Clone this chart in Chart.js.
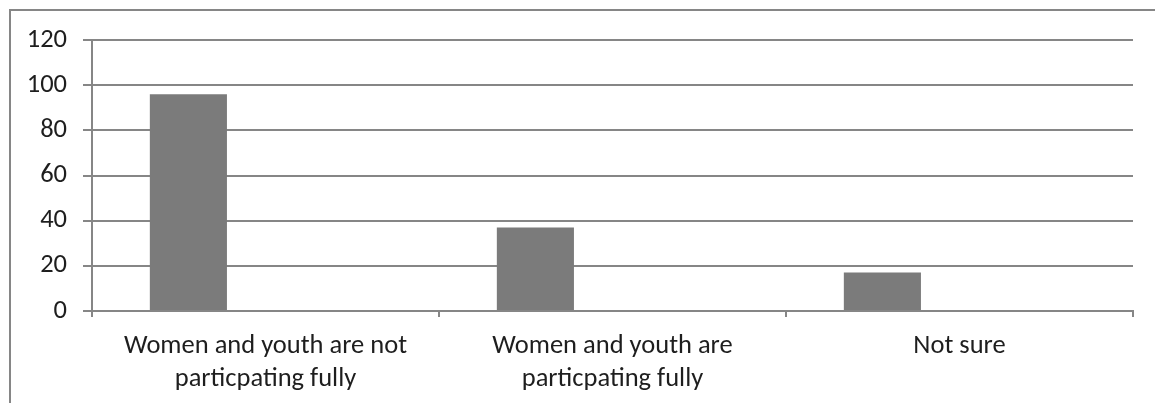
<!DOCTYPE html>
<html>
<head>
<meta charset="utf-8">
<script src="https://cdn.jsdelivr.net/npm/chart.js@4.4.1/dist/chart.umd.min.js"></script>
<style>
  html, body { margin: 0; padding: 0; background: #ffffff; overflow: hidden; }
  canvas { display: block; }
</style>
</head>
<body>
<canvas id="chart" width="1155" height="403"></canvas>
<script>
// Survey responses on participation of women and youth
const categories = [
  ['Women and youth are not', 'particpating fully'],
  ['Women and youth are', 'particpating fully'],
  'Not sure'
];
const responses = [96, 37, 17];
// The workbook carries two further series with no entries
const emptySeriesB = [null, null, null];
const emptySeriesC = [null, null, null];
const yTicks = [0, 20, 40, 60, 80, 100, 120];

const lineGray = '#868686';
const barGray = '#7b7b7b';
const textColor = '#1e1e1e';
const labelFont = { family: 'Carlito, Lato, "Open Sans", sans-serif', size: 26.5 };

const framePlugin = {
  id: 'frame',
  beforeDraw(chart) {
    const ctx = chart.ctx;
    ctx.save();
    ctx.fillStyle = '#ffffff';
    ctx.fillRect(0, 0, chart.width, chart.height);
    ctx.strokeStyle = lineGray;
    ctx.lineWidth = 2;
    ctx.strokeRect(10, 10, chart.width + 20, chart.height + 20);
    ctx.restore();
  }
};

new Chart(document.getElementById('chart'), {
  type: 'bar',
  data: {
    labels: categories,
    datasets: [
      { data: responses, backgroundColor: barGray },
      { data: emptySeriesB, backgroundColor: barGray },
      { data: emptySeriesC, backgroundColor: barGray }
    ]
  },
  options: {
    responsive: false,
    animation: false,
    devicePixelRatio: 1,
    layout: { padding: { top: 40, left: 0, right: 22, bottom: 0 } },
    plugins: { legend: { display: false }, tooltip: { enabled: false } },
    datasets: { bar: { categoryPercentage: 3 / 4.5, barPercentage: 1.0 } },
    scales: {
      x: {
        offset: true,
        grid: {
          offset: true,
          drawOnChartArea: false,
          drawTicks: true,
          tickLength: 6,
          color: lineGray,
          lineWidth: 2
        },
        border: { display: true, color: lineGray, width: 2 },
        ticks: {
          color: textColor,
          font: Object.assign({ lineHeight: 1.245 }, labelFont),
          padding: 13,
          maxRotation: 0,
          autoSkip: false
        },
        afterFit(scale) { scale.height = 92; }
      },
      y: {
        min: 0,
        max: 120,
        afterBuildTicks(scale) { scale.ticks = yTicks.map(v => ({ value: v })); },
        grid: {
          color: lineGray,
          lineWidth: 2,
          drawTicks: true,
          tickLength: 9,
          tickColor: lineGray
        },
        border: { display: true, color: lineGray, width: 2 },
        ticks: {
          color: textColor,
          font: labelFont,
          padding: 16
        },
        afterFit(scale) { scale.width = 92; }
      }
    }
  },
  plugins: [framePlugin]
});
</script>
</body>
</html>
